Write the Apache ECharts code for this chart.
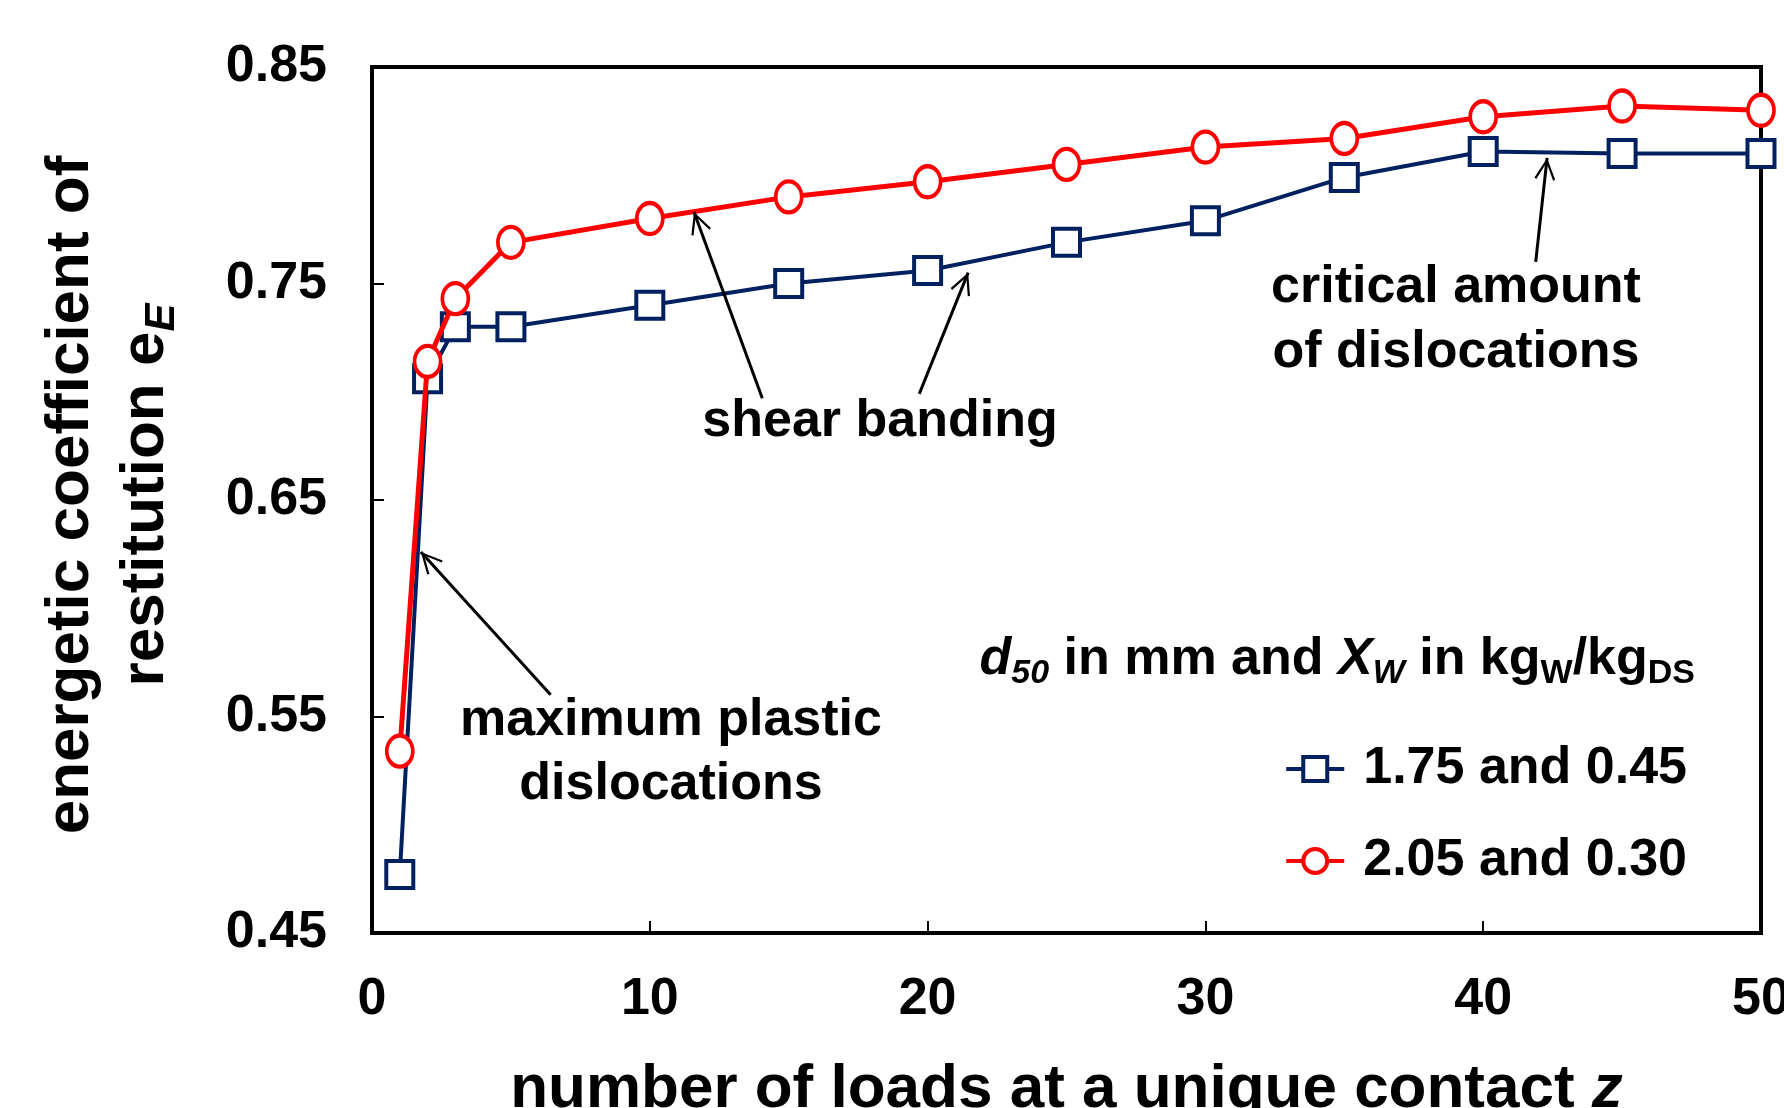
<!DOCTYPE html>
<html>
<head>
<meta charset="utf-8">
<script src="https://cdn.jsdelivr.net/npm/echarts@6/dist/echarts.min.js"></script>
<style>
  html, body { margin: 0; padding: 0; background: #fff; }
  #main { width: 1784px; height: 1108px; }
</style>
</head>
<body>
<div id="main"></div>
<script>
// data
var loads = [1, 2, 3, 5, 10, 15, 20, 25, 30, 35, 40, 45, 50];
var eBlue = [0.477, 0.706, 0.730, 0.730, 0.740, 0.750, 0.756, 0.769, 0.779, 0.799, 0.811, 0.810, 0.810];
var eRed  = [0.534, 0.714, 0.743, 0.769, 0.780, 0.790, 0.797, 0.805, 0.813, 0.817, 0.827, 0.832, 0.830];
var seriesNames = ['1.75 and 0.45', '2.05 and 0.30'];
var yTicks = [0.45, 0.55, 0.65, 0.75, 0.85];

// arrows: [tail, tip] in data units
var arrows = [
    [[14.05, 0.697], [11.59, 0.783]],
    [[19.70, 0.699], [21.46, 0.755]],
    [[41.89, 0.760], [42.30, 0.808]],
    [[6.43, 0.560], [1.76, 0.626]]
];

var FONT = "'Liberation Sans', Arial, sans-serif";
var NAVY = '#002060';
var RED = '#ff0000';

function pairs(xs, ys) {
    var out = [];
    for (var i = 0; i < xs.length; i++) out.push([xs[i], ys[i]]);
    return out;
}

// open arrow head (V shape), apex at symbol centre
var arrowHead = 'path://M0,0 L9,18 L7.3,19 L0,4.2 L-7.3,19 L-9,18 Z M0,-19 L0.01,-19 L0,-18.99 Z';

var arrowData = arrows.map(function (a) {
    return [{ coord: a[0] }, { coord: a[1] }];
});

var chart = echarts.init(document.getElementById('main'));

chart.setOption({
    animation: false,
    backgroundColor: '#fff',
    grid: {
        left: 372, top: 67, right: 23, bottom: 175,
        outerBoundsMode: 'none',
        show: true, borderColor: '#000', borderWidth: 4, backgroundColor: 'transparent'
    },
    xAxis: {
        type: 'value', min: 0, max: 50, interval: 10,
        axisLine: { onZero: false, lineStyle: { color: '#000', width: 4 } },
        axisTick: { inside: true, length: 12, lineStyle: { color: '#000', width: 2 } },
        splitLine: { show: false },
        axisLabel: { margin: 41, color: '#000', fontSize: 52, fontWeight: 'bold', fontFamily: FONT },
        name: 'number of loads at a unique contact {i|z}',
        nameLocation: 'middle', nameGap: 126,
        nameTextStyle: {
            color: '#000', fontSize: 62, fontWeight: 'bold', fontFamily: FONT,
            rich: { i: { fontSize: 62, fontWeight: 'bold', fontStyle: 'italic', fontFamily: FONT, color: '#000' } }
        }
    },
    yAxis: {
        type: 'value', min: yTicks[0], max: yTicks[yTicks.length - 1], interval: 0.1,
        axisLine: { onZero: false, lineStyle: { color: '#000', width: 4 } },
        axisTick: { inside: true, length: 12, lineStyle: { color: '#000', width: 2 } },
        splitLine: { show: false },
        axisLabel: {
            margin: 45, color: '#000', fontSize: 52, fontWeight: 'bold', fontFamily: FONT,
            formatter: function (v) { return v.toFixed(2); }
        }
    },
    legend: {
        data: seriesNames,
        orient: 'vertical', right: 92, top: 738,
        itemGap: 40, itemWidth: 58, itemHeight: 30,
        lineStyle: { width: 4 },
        itemStyle: { borderWidth: 4 },
        textStyle: { color: '#000', fontSize: 52, fontWeight: 'bold', fontFamily: FONT, padding: [0, 0, 0, 14] }
    },
    series: [
        {
            name: seriesNames[0], type: 'line',
            data: pairs(loads, eBlue),
            symbol: 'rect', symbolSize: 27,
            lineStyle: { color: NAVY, width: 4 },
            itemStyle: { color: '#fff', borderColor: NAVY, borderWidth: 4 },
            z: 2,
            markLine: {
                silent: true, animation: false,
                symbol: ['none', arrowHead], symbolSize: 44, symbolKeepAspect: true,
                label: { show: false },
                lineStyle: { color: '#000', width: 3, type: 'solid' },
                emphasis: { disabled: true },
                data: arrowData
            }
        },
        {
            name: seriesNames[1], type: 'line',
            data: pairs(loads, eRed),
            symbol: 'circle', symbolSize: [26, 31],
            lineStyle: { color: RED, width: 5 },
            itemStyle: { color: '#fff', borderColor: RED, borderWidth: 4 },
            z: 3
        }
    ],
    graphic: [
        {
            type: 'text', x: 108, y: 495, rotation: Math.PI / 2,
            style: {
                text: 'energetic coefficient of\nrestitution e{sub|E}',
                align: 'center', verticalAlign: 'middle',
                font: 'bold 62px ' + FONT, fill: '#000', lineHeight: 75,
                rich: {
                    sub: { font: 'italic bold 42px ' + FONT, fill: '#000', lineHeight: 42, verticalAlign: 'bottom' }
                }
            }
        },
        {
            type: 'text', x: 880, y: 422,
            style: { text: 'shear banding', align: 'center', verticalAlign: 'middle', font: 'bold 52px ' + FONT, fill: '#000' }
        },
        {
            type: 'text', x: 1456, y: 320,
            style: { text: 'critical amount\nof dislocations', align: 'center', verticalAlign: 'middle', font: 'bold 52px ' + FONT, fill: '#000', lineHeight: 65 }
        },
        {
            type: 'text', x: 671, y: 753,
            style: { text: 'maximum plastic\ndislocations', align: 'center', verticalAlign: 'middle', font: 'bold 52px ' + FONT, fill: '#000', lineHeight: 64 }
        },
        {
            type: 'text', x: 1695, y: 660,
            style: {
                text: '{i|d}{is|50} in mm and {i|X}{is|W} in kg{s|W}/kg{s|DS}',
                align: 'right', verticalAlign: 'middle',
                font: 'bold 52px ' + FONT, fill: '#000', lineHeight: 62,
                rich: {
                    i: { font: 'italic bold 52px ' + FONT, fill: '#000', lineHeight: 62 },
                    is: { font: 'italic bold 34px ' + FONT, fill: '#000', lineHeight: 34, verticalAlign: 'bottom' },
                    s: { font: 'bold 34px ' + FONT, fill: '#000', lineHeight: 34, verticalAlign: 'bottom' }
                }
            }
        }
    ]
});
</script>
</body>
</html>
